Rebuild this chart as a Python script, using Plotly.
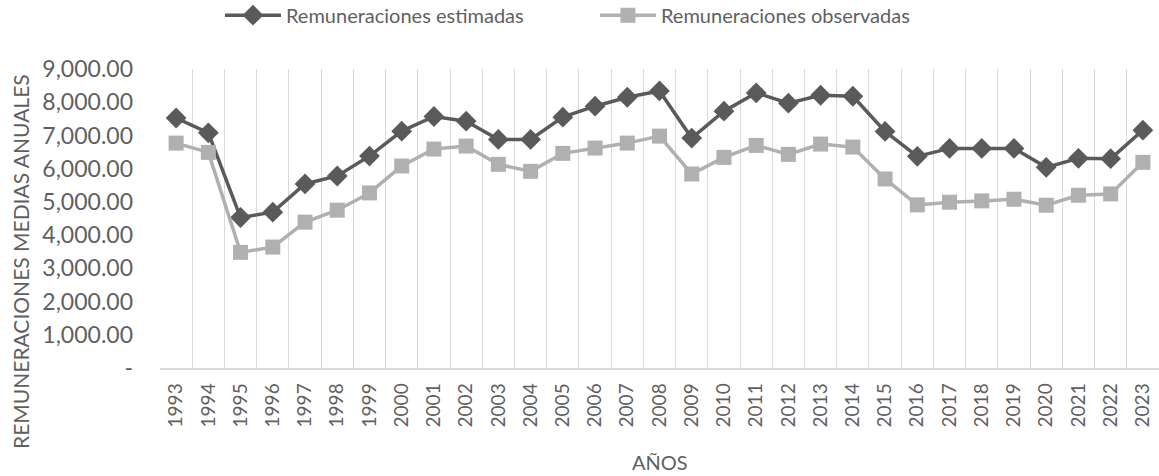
import plotly.graph_objects as go

years = [str(y) for y in range(1993, 2024)]
estimadas = [7525, 7080, 4530, 4690, 5540, 5780, 6380, 7130, 7570, 7430, 6880, 6880,
             7550, 7880, 8150, 8340, 6920, 7730, 8280, 7970, 8210, 8180, 7120, 6370,
             6610, 6610, 6610, 6040, 6310, 6300, 7160]
observadas = [6770, 6490, 3480, 3640, 4390, 4750, 5270, 6080, 6590, 6680, 6130, 5920,
              6460, 6620, 6770, 6980, 5840, 6340, 6700, 6430, 6740, 6650, 5690, 4910,
              4990, 5030, 5080, 4900, 5200, 5240, 6190]
ytick_vals = [0, 1000, 2000, 3000, 4000, 5000, 6000, 7000, 8000, 9000]
ytick_text = ["-", "1,000.00", "2,000.00", "3,000.00", "4,000.00", "5,000.00",
              "6,000.00", "7,000.00", "8,000.00", "9,000.00"]

FONT = "Lato"
TXT = "#5f5f5f"

fig = go.Figure()
fig.add_trace(go.Scatter(
    x=years, y=estimadas, name="Remuneraciones estimadas", mode="lines+markers",
    line=dict(color="#5a5a5a", width=3.5),
    marker=dict(symbol="diamond", size=16, color="#5a5a5a"),
))
fig.add_trace(go.Scatter(
    x=years, y=observadas, name="Remuneraciones observadas", mode="lines+markers",
    line=dict(color="#b0b0b0", width=3.5),
    marker=dict(symbol="square", size=15, color="#b0b0b0"),
))

fig.update_layout(
    width=1159, height=476,
    margin=dict(l=160, r=0, t=69, b=108, autoexpand=False),
    paper_bgcolor="white", plot_bgcolor="white",
    font=dict(family=FONT, color=TXT, size=18),
    showlegend=True,
    legend=dict(orientation="h", x=0.06, xanchor="left", y=1.18, yanchor="middle",
                font=dict(size=20, color=TXT), itemwidth=56, entrywidth=304,
                bgcolor="rgba(0,0,0,0)"),
    xaxis=dict(
        type="category", tickson="boundaries", showgrid=True, gridcolor="#d9d9d9",
        gridwidth=1, showline=True, linecolor="#d9d9d9", linewidth=1.5,
        ticks="", tickangle=-90, tickfont=dict(size=19, color=TXT, family=FONT),
        ticklabelstandoff=6, automargin=False,
        range=[-0.5, 30.5], fixedrange=True,
    ),
    yaxis=dict(
        range=[0, 9000], tickvals=ytick_vals, ticktext=ytick_text,
        showgrid=False, zeroline=False, showline=False, ticks="",
        tickfont=dict(size=23, color=TXT, family=FONT), ticklabelstandoff=26,
        automargin=False, fixedrange=True,
    ),
    annotations=[
        dict(text="AÑOS", xref="paper", yref="paper", x=0.5, y=(476 - 108 - 462) / 299,
             xanchor="center", yanchor="middle", showarrow=False,
             font=dict(size=20, color=TXT, family=FONT)),
        dict(text="REMUNERACIONES MEDIAS ANUALES", xref="paper", yref="paper",
             x=(20 - 160) / 999, y=(368 - 262) / 299, textangle=-90,
             xanchor="center", yanchor="middle", showarrow=False,
             font=dict(size=21, color=TXT, family=FONT)),
    ],
)

fig.write_html("out.html", config={"displayModeBar": False},
               post_script="document.body.style.margin='0';document.body.style.overflow='hidden';")
